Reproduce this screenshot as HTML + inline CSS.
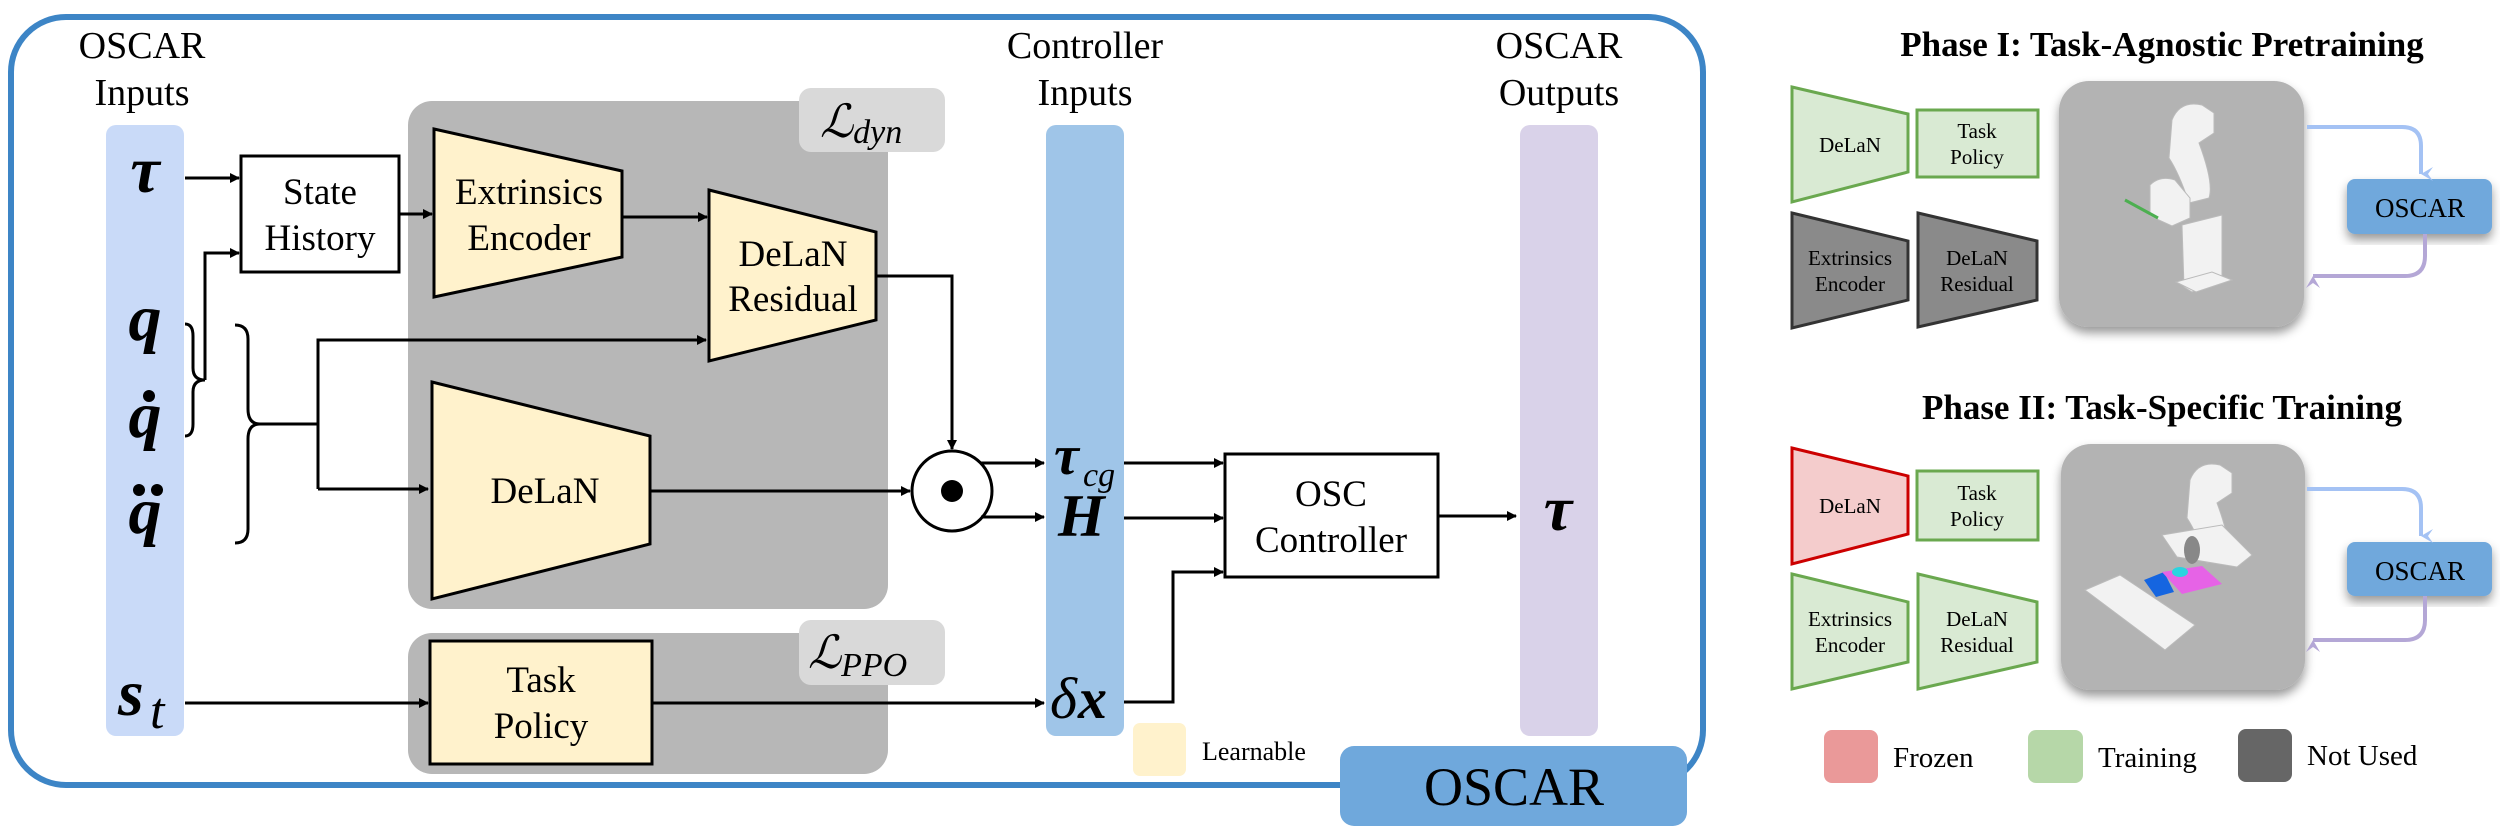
<!DOCTYPE html>
<html><head><meta charset="utf-8"><style>
html,body{margin:0;padding:0;background:#fff}
svg{display:block}
text{font-family:"Liberation Serif",serif;fill:#000}
.m{font-family:"Liberation Serif",serif;font-weight:bold;font-style:italic}
</style></head><body>
<svg width="2500" height="828" viewBox="0 0 2500 828" xmlns="http://www.w3.org/2000/svg">
<defs>
<marker id="ah" markerWidth="10" markerHeight="10" refX="9" refY="5" orient="auto" markerUnits="userSpaceOnUse" viewBox="0 0 10 10">
<path d="M0,0 L10,5 L0,10 z" fill="#000"/></marker>
<marker id="ab" markerWidth="14" markerHeight="14" refX="7" refY="12" orient="auto" markerUnits="userSpaceOnUse" viewBox="0 0 14 14"><path d="M0,0 L7,12 L14,0 L7,5 z" fill="#a4c2f4"/></marker>
<marker id="ap" markerWidth="14" markerHeight="14" refX="7" refY="12" orient="auto" markerUnits="userSpaceOnUse" viewBox="0 0 14 14"><path d="M0,0 L7,12 L14,0 L7,5 z" fill="#b4a7d6"/></marker>
<filter id="sh" x="-10%" y="-10%" width="130%" height="130%"><feDropShadow dx="0" dy="6" stdDeviation="5" flood-color="#000" flood-opacity="0.4"/></filter>
</defs>

<rect x="11" y="17" width="1692" height="768" rx="55" fill="none" stroke="#3d85c6" stroke-width="6"/>

<g font-size="38" text-anchor="middle">
<text x="142" y="58">OSCAR</text><text x="142" y="105">Inputs</text>
<text x="1085" y="58">Controller</text><text x="1085" y="105">Inputs</text>
<text x="1559" y="58">OSCAR</text><text x="1559" y="105">Outputs</text>
</g>

<rect x="106" y="125" width="78" height="611" rx="10" fill="#c9daf8"/>
<rect x="1046" y="125" width="78" height="611" rx="10" fill="#9fc5e8"/>
<rect x="1520" y="125" width="78" height="611" rx="10" fill="#d9d2e9"/>

<rect x="408" y="101" width="480" height="508" rx="24" fill="#b7b7b7"/>
<rect x="408" y="633" width="480" height="141" rx="24" fill="#b7b7b7"/>
<rect x="799" y="88" width="146" height="64" rx="12" fill="#d9d9d9"/>
<rect x="799" y="620" width="146" height="65" rx="12" fill="#d9d9d9"/>
<text x="820" y="137" font-size="46" font-style="italic">ℒ<tspan font-size="34" dy="6">dyn</tspan></text>
<text x="808" y="668" font-size="46" font-style="italic">ℒ<tspan font-size="34" dy="8">PPO</tspan></text>

<g class="m" font-size="66" text-anchor="middle">
<text x="145" y="192">τ</text>
<text x="145" y="340">q</text>
<text x="145" y="437">q</text>
<text x="145" y="533">q</text>
</g>
<circle cx="149" cy="396" r="6" fill="#000"/>
<circle cx="139" cy="490" r="6" fill="#000"/>
<circle cx="157" cy="490" r="6" fill="#000"/>
<text x="118" y="715" class="m" font-size="66">s</text>
<text x="150" y="728" font-size="52" font-style="italic">t</text>

<g stroke="#000" stroke-width="3" fill="none">
<rect x="241" y="156" width="158" height="116" fill="#fff"/>
<line x1="185" y1="178" x2="239" y2="178" marker-end="url(#ah)"/>
<polyline points="205,380 205,253 239,253" marker-end="url(#ah)"/>
<path d="M185,324 q8,0 8,12 v32 q0,12 12,12 q-12,0 -12,12 v32 q0,12 -8,12"/>
<path d="M235,325 q13,0 13,14 v70 q0,15 12,15 q-12,0 -12,15 v90 q0,14 -13,14"/>
<polyline points="260,424 318,424"/>
<polyline points="318,489 318,340 706,340" marker-end="url(#ah)"/>
<line x1="318" y1="489" x2="428" y2="489" marker-end="url(#ah)"/>
<polygon points="434,129 622,171 622,257 434,297" fill="#fff2cc"/>
<polygon points="709,190 876,232 876,320 709,361" fill="#fff2cc"/>
<polygon points="432,382 650,436 650,544 432,599" fill="#fff2cc"/>
<rect x="430" y="641" width="222" height="123" fill="#fff2cc"/>
<line x1="399" y1="214" x2="432" y2="214" marker-end="url(#ah)"/>
<line x1="622" y1="217" x2="707" y2="217" marker-end="url(#ah)"/>
<polyline points="876,276 952,276 952,449" marker-end="url(#ah)"/>
<line x1="650" y1="491" x2="910" y2="491" marker-end="url(#ah)"/>
<circle cx="952" cy="491" r="40" fill="#fff"/>
<line x1="185" y1="703" x2="428" y2="703" marker-end="url(#ah)"/>
<line x1="652" y1="703" x2="1044" y2="703" marker-end="url(#ah)"/>
<polyline points="981,463 1044,463" marker-end="url(#ah)"/>
<polyline points="981,517 1044,517" marker-end="url(#ah)"/>
<line x1="1124" y1="463" x2="1223" y2="463" marker-end="url(#ah)"/>
<line x1="1124" y1="518" x2="1223" y2="518" marker-end="url(#ah)"/>
<polyline points="1124,702 1173,702 1173,572 1223,572" marker-end="url(#ah)"/>
<rect x="1225" y="454" width="213" height="123" fill="#fff"/>
<line x1="1438" y1="516" x2="1516" y2="516" marker-end="url(#ah)"/>
</g>
<circle cx="952" cy="491" r="11" fill="#000"/>

<g font-size="37" text-anchor="middle">
<text x="320" y="204">State</text><text x="320" y="250">History</text>
<text x="529" y="204">Extrinsics</text><text x="529" y="250">Encoder</text>
<text x="793" y="266">DeLaN</text><text x="793" y="311">Residual</text>
<text x="545" y="503">DeLaN</text>
<text x="541" y="692">Task</text><text x="541" y="738">Policy</text>
<text x="1331" y="506">OSC</text><text x="1331" y="552">Controller</text>
</g>

<text x="1054" y="474" class="m" font-size="56">τ</text>
<text x="1083" y="486" font-size="34" font-style="italic">cg</text>
<text x="1058" y="536" class="m" font-size="60">H</text>
<text x="1050" y="718" font-size="58" font-style="italic">δ</text>
<text x="1078" y="718" class="m" font-size="58">x</text>
<text x="1558" y="530" class="m" font-size="64" text-anchor="middle">τ</text>

<rect x="1133" y="723" width="53" height="53" rx="7" fill="#fff2cc"/>
<text x="1202" y="760" font-size="26">Learnable</text>

<rect x="1340" y="746" width="347" height="80" rx="14" fill="#6fa8dc"/>
<text x="1514" y="805" font-size="54" text-anchor="middle">OSCAR</text>

<g font-weight="bold" font-size="35" text-anchor="middle">
<text x="2162" y="56">Phase I: Task-Agnostic Pretraining</text>
<text x="2162" y="419">Phase II: Task-Specific Training</text>
</g>
<g stroke-width="3">
<polygon points="1792,87 1908,114 1908,172 1792,202" fill="#d9ead3" stroke="#6aa84f"/>
<rect x="1917" y="110" width="121" height="67" fill="#d9ead3" stroke="#6aa84f"/>
<polygon points="1792,213 1908,241 1908,300 1792,328" fill="#8a8a8a" stroke="#333"/>
<polygon points="1918,213 2037,241 2037,300 1918,327" fill="#8a8a8a" stroke="#333"/>
<polygon points="1792,448 1908,476 1908,534 1792,564" fill="#f4cccc" stroke="#cc0000"/>
<rect x="1917" y="471" width="121" height="69" fill="#d9ead3" stroke="#6aa84f"/>
<polygon points="1792,574 1908,602 1908,662 1792,689" fill="#d9ead3" stroke="#6aa84f"/>
<polygon points="1918,574 2037,602 2037,662 1918,689" fill="#d9ead3" stroke="#6aa84f"/>
</g>
<g font-size="21" text-anchor="middle">
<text x="1850" y="152">DeLaN</text>
<text x="1977" y="138">Task</text><text x="1977" y="164">Policy</text>
<text x="1850" y="265">Extrinsics</text><text x="1850" y="291">Encoder</text>
<text x="1977" y="265">DeLaN</text><text x="1977" y="291">Residual</text>
<text x="1850" y="513">DeLaN</text>
<text x="1977" y="500">Task</text><text x="1977" y="526">Policy</text>
<text x="1850" y="626">Extrinsics</text><text x="1850" y="652">Encoder</text>
<text x="1977" y="626">DeLaN</text><text x="1977" y="652">Residual</text>
</g>

<rect x="2059" y="81" width="245" height="246" rx="30" fill="#b3b3b3" filter="url(#sh)"/>
<rect x="2061" y="444" width="244" height="246" rx="30" fill="#b3b3b3" filter="url(#sh)"/>
<g fill="#f2f2f2" stroke="#bbb" stroke-width="1">
<path d="M2172,120 q8,-20 30,-15 l12,8 v20 l-15,10 q15,40 10,55 l-20,5 q-10,-30 -20,-45 z"/>
<path d="M2150,185 q10,-10 25,-5 l15,18 v20 l-18,8 -22,-10 z"/>
<path d="M2182,225 l40,-10 v65 l-30,12 -8,-5 z"/>
<path d="M2176,282 l20,10 36,-12 -20,-8 z"/>
</g>
<line x1="2125" y1="200" x2="2158" y2="218" stroke="#4caf50" stroke-width="3"/>
<g fill="#f2f2f2" stroke="#bbb" stroke-width="1">
<path d="M2190,480 q8,-20 30,-15 l12,8 v20 l-15,10 q15,40 10,55 l-20,5 q-10,-30 -20,-45 z"/>
<path d="M2162,535 l60,-10 l30,30 l-15,12 -60,-10 z"/>
<path d="M2085,590 l35,-15 l75,50 l-30,25 z"/>
</g>
<path d="M2144,580 l20,-8 l10,20 l-18,5 z" fill="#1565e0"/>
<path d="M2162,572 l40,-6 l20,18 l-40,10 z" fill="#e663e6"/>
<ellipse cx="2180" cy="572" rx="8" ry="5" fill="#2ad4e0"/>
<ellipse cx="2192" cy="550" rx="8" ry="14" fill="#888"/>

<rect x="2347" y="179" width="145" height="55" rx="8" fill="#6fa8dc" filter="url(#sh)"/>
<rect x="2347" y="542" width="145" height="54" rx="8" fill="#6fa8dc" filter="url(#sh)"/>
<text x="2420" y="217" font-size="27" text-anchor="middle">OSCAR</text>
<text x="2420" y="580" font-size="27" text-anchor="middle">OSCAR</text>
<g fill="none" stroke-width="4">
<path d="M2307,127 h95 q19,0 19,19 v28" stroke="#a4c2f4" marker-end="url(#ab)"/>
<path d="M2307,489 h95 q19,0 19,19 v28" stroke="#a4c2f4" marker-end="url(#ab)"/>
<path d="M2425,234 v22 q0,20 -20,20 h-92" stroke="#b4a7d6" marker-end="url(#ap)"/>
<path d="M2425,596 v24 q0,20 -20,20 h-92" stroke="#b4a7d6" marker-end="url(#ap)"/>
</g>

<rect x="1824" y="730" width="54" height="53" rx="8" fill="#ea9999"/>
<rect x="2028" y="730" width="55" height="53" rx="8" fill="#b6d7a8"/>
<rect x="2238" y="729" width="54" height="53" rx="8" fill="#666"/>
<g font-size="29">
<text x="1893" y="767">Frozen</text>
<text x="2098" y="767">Training</text>
<text x="2307" y="765">Not Used</text>
</g>
</svg>
</body></html>
